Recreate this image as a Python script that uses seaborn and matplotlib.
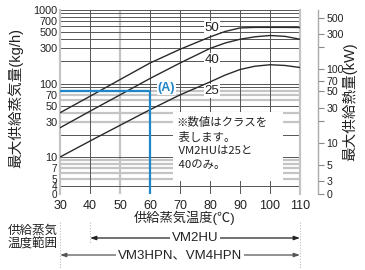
import numpy as np
import pandas as pd
import matplotlib
matplotlib.use("Agg")
import matplotlib.pyplot as plt
import seaborn as sns
from matplotlib.transforms import blended_transform_factory
from matplotlib.lines import Line2D
from matplotlib.patches import Rectangle
from matplotlib.ticker import NullLocator

# ---------------- data ----------------
temps = [30, 40, 50, 60, 70, 80, 85, 90, 95, 100, 105, 110]
class_50 = [40, 67, 113, 190, 292, 430, 510, 570, 580, 580, 580, 578]
class_40 = [25, 42, 70, 117, 190, 300, 355, 400, 432, 450, 438, 400]
class_25 = [10, 16.5, 27, 44, 70, 105, 130, 155, 172, 180, 176, 165]
class_names = ["50", "40", "25"]
label_x = [80.7, 80.7, 80.7]
label_y = [570, 209, 79]

x_ticks = [30, 40, 50, 60, 70, 80, 90, 100, 110]
left_ticks = [1000, 700, 500, 300, 100, 70, 50, 30, 10, 7, 5, 4]
left_labels = ["1000", "700", "500", "300", "100", "70", "50", "30", "10", "7", "5", "4"]
y_min, y_max = 3.14, 1000
kw_per_kgh = 0.64
right_ticks = [500, 300, 200, 100, 70, 50, 30, 20, 10, 5, 3]
right_labels = ["500", "300", "", "100", "70", "50", "30", "", "10", "5", "3"]

grid_dark = [1000, 900, 800, 700, 600, 500, 400, 300, 200, 100, 90, 50, 20, 10, 4]
grid_gray = [80, 70, 60, 40, 30, 9, 8, 7, 6, 5]
vgrid_dark = [40, 60, 70, 80, 90, 100]
vgrid_gray = [50]

a_temp, a_flow = 60, 78
a_label_x, a_label_y = 65.5, 87

range_vm2hu = (40, 110)
range_vm34 = (30, 110)

# ---------------- style ----------------
sns.set_style("white")
plt.rcParams["font.family"] = ["Liberation Sans", "Noto Sans CJK JP"]
plt.rcParams["axes.unicode_minus"] = False

W, H = 365, 270
fig = plt.figure(figsize=(W / 100, H / 100), dpi=100)
ax = fig.add_axes([60 / W, 76 / H, 240 / W, 184 / H])
ax.set_yscale("log")

df = pd.DataFrame({
    "temp": temps * 3,
    "flow": class_50 + class_40 + class_25,
    "cls": sum([[c] * len(temps) for c in class_names], []),
})
sns.lineplot(data=df, x="temp", y="flow", hue="cls", palette=["#2a2a2a"] * 3,
             estimator=None, legend=False, linewidth=1.0, ax=ax, zorder=3)

ax.set_xlim(30, 110)
ax.set_ylim(y_min, y_max)

# grid
for v in grid_dark:
    ax.axhline(v, color="#555555", lw=0.7, zorder=1, clip_on=False)
for v in grid_gray:
    ax.axhline(v, color="#c4c4c4", lw=1.6, zorder=0.9)
for v in vgrid_dark:
    ax.axvline(v, color="#555555", lw=0.7, zorder=1)
for v in vgrid_gray:
    ax.axvline(v, color="#c4c4c4", lw=1.6, zorder=0.9)

for s in ["top", "bottom"]:
    ax.spines[s].set_visible(False)
for s in ["left", "right"]:
    ax.spines[s].set_color("#c4c4c4")
    ax.spines[s].set_linewidth(1.6)

ax.set_xticks(x_ticks)
ax.set_xticklabels([str(t) for t in x_ticks])
ax.set_yticks(left_ticks + [y_min])
ax.set_yticklabels(left_labels + ["0"])
ax.yaxis.set_minor_locator(NullLocator())
ax.tick_params(axis="y", length=0, pad=2, labelsize=7.8, colors="#222222")
ax.tick_params(axis="x", length=0, pad=4, labelsize=9, colors="#222222")
for lab in ax.get_yticklabels():
    if lab.get_text() in ("7", "5", "4", "0"):
        lab.set_fontsize(7.2)
ax.set_xlabel("")
ax.set_ylabel("")

# class labels
for name, lx, ly in zip(class_names, label_x, label_y):
    ax.text(lx, ly, name, ha="center", va="center", fontsize=9.5, color="#222222",
            zorder=2, bbox=dict(facecolor="white", edgecolor="none", pad=0.6))

# (A) lines
ax.plot([30, a_temp], [a_flow, a_flow], color="#1f86c8", lw=1.6, zorder=3.5, solid_capstyle="butt")
ax.plot([a_temp, a_temp], [a_flow, y_min], color="#1f86c8", lw=1.6, zorder=3.5, solid_capstyle="butt")
ax.text(a_label_x, a_label_y, "(A)", color="#1f86c8", fontsize=9, fontweight="bold",
        ha="center", va="center", zorder=2,
        bbox=dict(facecolor="white", edgecolor="none", pad=0.5))

# note box
fig.add_artist(Rectangle((173 / W, 1 - 181 / H), 110 / W, 69 / H, transform=fig.transFigure,
                         facecolor="white", edgecolor="none", zorder=4))
fig.text(176 / W, 1 - 117 / H, "※数値はクラスを\n 表します。\n VM2HUは25と\n 40のみ。",
         ha="left", va="top", fontsize=8.2, linespacing=1.42, color="#222222", zorder=5,
         family=["Noto Sans CJK JP", "Liberation Sans"])

# right axis (kW)
ax2 = ax.twinx()
ax2.set_yscale("log")
ax2.set_ylim(y_min * kw_per_kgh, y_max * kw_per_kgh)
for s in ["left", "top", "bottom"]:
    ax2.spines[s].set_visible(False)
ax2.spines["right"].set_position(("outward", 13))
ax2.spines["right"].set_color("#aaaaaa")
ax2.spines["right"].set_linewidth(1.0)
ax2.set_yticks(right_ticks + [y_min * kw_per_kgh])
ax2.set_yticklabels(right_labels + ["0"])
ax2.yaxis.set_minor_locator(NullLocator())
ax2.tick_params(axis="y", length=4, width=0.8, color="#888888", pad=2,
                labelsize=7.6, labelcolor="#222222", direction="out")

# axis titles
fig.text(15 / W, 1 - 98 / H, "最大供給蒸気量(kg/h)", rotation=90, ha="center", va="center",
         fontsize=10.5, color="#222222")
fig.text(350 / W, 1 - 102 / H, "最大供給熱量(kW)", rotation=90, ha="center", va="center",
         fontsize=10.5, color="#222222")
fig.text(185 / W, 1 - 218 / H, "供給蒸気温度(℃)", ha="center", va="center",
         fontsize=9.5, color="#222222")
fig.text(33 / W, 1 - 238 / H, "供給蒸気\n温度範囲", ha="center", va="center",
         fontsize=9, linespacing=1.2, color="#222222")

# range arrows
trans = blended_transform_factory(ax.transData, fig.transFigure)
for x in [range_vm34[0], range_vm2hu[0], range_vm34[1]]:
    y0 = 1 - 222 / H
    y1 = 1 - (244 if x == range_vm2hu[0] and x != range_vm34[0] else 268) / H
    fig.add_artist(Line2D([x, x], [y0, y1], transform=trans, color="#bbbbbb",
                          lw=0.8, linestyle=(0, (1, 1.5))))

for (x0, x1), ypx, label, col in [(range_vm2hu, 238, "VM2HU", "#222222"),
                                   (range_vm34, 255, "VM3HPN、VM4HPN", "#555555")]:
    yf = 1 - ypx / H
    ax.annotate("", xy=(x1, yf), xytext=(x0, yf), xycoords=trans, textcoords=trans,
                arrowprops=dict(arrowstyle="<|-|>,head_length=0.35,head_width=0.12",
                                color=col, lw=0.9, shrinkA=0, shrinkB=0),
                annotation_clip=False)
    cx = (x0 + x1) / 2
    ax.text(cx, yf, label, transform=trans, ha="center", va="center", fontsize=9.5,
            color="#222222", bbox=dict(facecolor="white", edgecolor="none", pad=1.5),
            clip_on=False)

fig.savefig("out.png", dpi=100)
